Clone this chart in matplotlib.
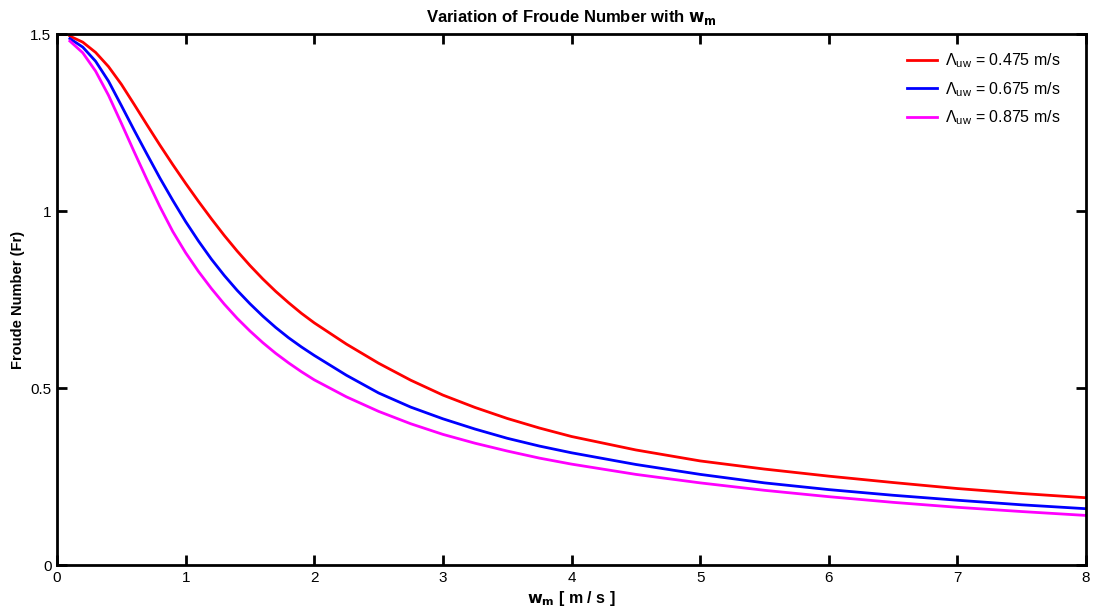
import matplotlib
matplotlib.use("Agg")
import matplotlib.pyplot as plt

plt.rcParams['font.family'] = ['Liberation Sans', 'DejaVu Sans']
plt.rcParams['mathtext.default'] = 'regular'

wm = [0.1, 0.2, 0.3, 0.4, 0.5, 0.6, 0.7, 0.8, 0.9, 1.0,
      1.1, 1.2, 1.3, 1.4, 1.5, 1.6, 1.7, 1.8, 1.9, 2.0,
      2.25, 2.5, 2.75, 3.0, 3.25, 3.5, 3.75, 4.0,
      4.5, 5.0, 5.5, 6.0, 6.5, 7.0, 7.5, 8.0]

fr_0475 = [1.494, 1.477, 1.448, 1.408, 1.358, 1.301, 1.243, 1.186, 1.131, 1.078,
           1.027, 0.978, 0.931, 0.887, 0.846, 0.808, 0.773, 0.741, 0.711, 0.684,
           0.624, 0.570, 0.522, 0.480, 0.445, 0.414, 0.387, 0.363,
           0.325, 0.294, 0.271, 0.251, 0.233, 0.216, 0.202, 0.190]
fr_0675 = [1.487, 1.463, 1.423, 1.367, 1.298, 1.228, 1.160, 1.093, 1.030, 0.970,
           0.915, 0.864, 0.818, 0.776, 0.738, 0.703, 0.671, 0.642, 0.616, 0.592,
           0.536, 0.486, 0.446, 0.413, 0.384, 0.358, 0.336, 0.317,
           0.284, 0.256, 0.232, 0.213, 0.197, 0.183, 0.170, 0.159]
fr_0875 = [1.480, 1.447, 1.395, 1.327, 1.248, 1.167, 1.088, 1.012, 0.942, 0.882,
           0.829, 0.781, 0.737, 0.697, 0.661, 0.628, 0.598, 0.571, 0.546, 0.523,
           0.475, 0.434, 0.399, 0.369, 0.344, 0.322, 0.302, 0.285,
           0.256, 0.232, 0.211, 0.193, 0.177, 0.163, 0.151, 0.140]

labels = [r'$\Lambda_{uw}$ = 0.475 m/s', r'$\Lambda_{uw}$ = 0.675 m/s',
          r'$\Lambda_{uw}$ = 0.875 m/s']
colors = ['#ff0000', '#0000ff', '#ff00ff']

xticks = [0, 1, 2, 3, 4, 5, 6, 7, 8]
yticks = [0, 0.5, 1, 1.5]
yticklabels = ['0', '0.5', '1', '1.5']

fig = plt.figure(figsize=(11.01, 6.14), dpi=100)
ax = fig.add_axes([0.0518, 0.0798, 0.9346, 0.8648])

for ys, c, lab in zip([fr_0475, fr_0675, fr_0875], colors, labels):
    ax.plot(wm, ys, color=c, lw=2.0, label=lab, solid_joinstyle='round')

ax.set_xlim(0, 8)
ax.set_ylim(0, 1.5)
ax.set_xticks(xticks)
ax.set_yticks(yticks)
ax.set_yticklabels(yticklabels)
ax.tick_params(direction='in', length=7, width=2, top=True, right=True,
               labelsize=11, pad=4)
for s in ax.spines.values():
    s.set_linewidth(2)

ax.set_title(r'Variation of Froude Number with $\mathbf{w_m}$', fontsize=12,
             fontweight='bold', pad=9)
ax.set_xlabel(r'$\mathbf{w_m}$ [ m / s ]', fontsize=11.5, fontweight='bold', labelpad=3)
ax.set_ylabel('Froude Number (Fr)', fontsize=10.5, fontweight='bold', labelpad=4)

leg = ax.legend(loc='upper right', bbox_to_anchor=(0.992, 1.0), frameon=False,
                fontsize=11.5, handlelength=1.85, labelspacing=0.6,
                borderaxespad=0.7, handletextpad=0.5)

fig.savefig('out.png', dpi=100)
